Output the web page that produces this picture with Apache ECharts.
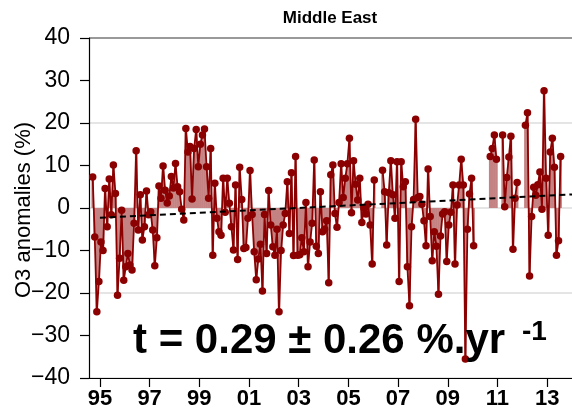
<!DOCTYPE html>
<html><head><meta charset="utf-8">
<script src="https://cdn.jsdelivr.net/npm/echarts@6/dist/echarts.min.js"></script>
<style>html,body{margin:0;padding:0;background:#fff}#c{width:572px;height:414px}</style>
</head><body><div id="c"></div>
<script>
// Monthly O3 anomalies (%), starting September 1994
const startYear = 1994;
const startMonth = 9;
const anomalies = [
  7.3, -6.8, -24.4, -17.3, -8.0, -10.0, 4.6, -4.4, 6.8, -1.6, 10.1, 3.4,
  -20.5, -11.8, -0.5, -17.0, -13.8, -10.7, -13.4, -14.6, -3.6, 13.5, -5.2, 3.1,
  -7.5, -4.4, 4.0, -1.6, -0.9, -5.2, -13.6, -7.0, 5.2, 2.3, 9.9, 4.2,
  1.2, 2.8, 7.4, 4.7, 10.5, 5.0, 3.8, -0.3, -2.8, 18.7, 13.2, 14.5,
  2.1, 14.0, 18.5, 9.7, 15.0, 17.2, 18.6, 9.7, 2.3, 14.0, -11.1, 5.8,
  -2.4, -5.6, -6.4, 7.0, -1.0, 7.0, 1.1, -4.4, -9.9, 5.4, -12.1, 9.6,
  2.0, -9.5, -9.3, -2.4, 8.8, -1.5, -10.3, -16.9, -12.0, -8.5, -19.5, -1.5,
  -10.7, 4.1, -4.0, -9.1, -11.1, -5.0, -24.4, -10.0, -4.0, -1.3, 6.2, -6.0,
  8.3, -11.2, 12.1, -11.1, -11.0, -7.0, -10.3, 1.3, -13.8, -8.0, -3.6, 11.3,
  -9.0, -10.7, 3.8, -5.6, -5.0, -3.0, -17.6, 7.8, 10.1, -1.3, -4.5, 1.3,
  10.4, 2.5, 7.0, 10.4, 16.4, -1.1, 11.1, 5.6, 1.9, 7.0, -3.4, 0.0,
  -1.4, 0.9, -4.0, -13.2, 6.6, null, null, null, 8.9, 3.8, -8.7, 3.6,
  11.1, 3.1, -2.4, 10.9, -17.3, 10.9, 5.0, 6.2, -13.8, -23.0, -4.4, 2.0,
  20.9, 2.5, 2.7, 0.9, -3.0, -8.9, 9.2, -2.0, -12.4, -5.6, -9.0, -20.3,
  -6.6, -1.4, -0.9, -12.6, -4.0, -1.0, 5.4, -13.2, 0.7, 5.4, 11.5, 5.4,
  -35.5, -5.0, 3.3, 7.0, -8.9, null, null, null, null, null, null, null,
  12.1, 14.0, 17.2, 11.5, null, null, 17.2, 0.3, 7.2, 12.0, 16.9, -9.7,
  2.3, 6.0, null, null, null, 19.5, 22.4, -16.0, -2.0, 4.9, 3.0, 5.5,
  8.5, -0.3, 27.6, 7.0, -6.4, 13.2, 16.4, 9.6, -11.1, -7.7, 12.1
];
const yearTicks = [1995, 1997, 1999, 2001, 2003, 2005, 2007, 2009, 2011, 2013];
const trendYears = [1995.0, 2014.0];
const trendValues = [-2.3, 3.2];
const titleText = 'Middle East';
const yName = 'O3 anomalies (%)';
const statText = 't = 0.29 ± 0.26 %.yr';
const statSup = '-1';

const pts = anomalies.map((v, i) => [startYear + (startMonth - 1 + i + 0.5) / 12, v]);
const trendPts = trendYears.map((y, i) => [y, trendValues[i]]);
const FONT = '"Liberation Sans", Arial, Helvetica, sans-serif';

const chart = echarts.init(document.getElementById('c'), null, {renderer: 'canvas'});
chart.setOption({
  animation: false,
  backgroundColor: '#fff',
  textStyle: {fontFamily: FONT},
  grid: {left: 89, top: 38, width: 488.5, height: 340, containLabel: false},
  xAxis: {
    type: 'value', min: 1994.56, max: 2014.0,
    axisLine: {show: true, onZero: false, lineStyle: {color: '#000', width: 1.2}},
    axisTick: {show: true, customValues: yearTicks, length: 9, lineStyle: {color: '#000', width: 1.2}},
    axisLabel: {customValues: yearTicks, formatter: v => String(Math.round(v)).slice(2),
      fontSize: 22, fontWeight: 'bold', color: '#000', margin: 10, fontFamily: FONT},
    splitLine: {show: false}
  },
  yAxis: [{
    type: 'value', min: -40, max: 40, interval: 10,
    axisLine: {show: true, onZero: false, lineStyle: {color: '#000', width: 1.2}},
    axisTick: {show: true, length: 9, lineStyle: {color: '#000', width: 1.2}},
    axisLabel: {fontSize: 23, color: '#000', margin: 19, fontFamily: FONT,
      formatter: v => v < 0 ? '\u2212' + Math.abs(v) : String(v)},
    splitLine: {show: false}
  }, {
    type: 'value', min: -40, max: 40, interval: 20, position: 'left',
    axisLine: {show: false}, axisTick: {show: false}, axisLabel: {show: false},
    splitLine: {show: true, lineStyle: {color: ['#dcdcdc', '#dcdcdc', '#dcdcdc', '#dcdcdc', '#777'], width: 1.5}}
  }],
  series: [{
    type: 'bar', data: pts, barWidth: 2.6, yAxisIndex: 0,
    itemStyle: {color: '#c58282'}, z: 1, silent: true
  }, {
    type: 'line', data: pts, yAxisIndex: 0, connectNulls: false,
    symbol: 'circle', symbolSize: 7.5, showSymbol: true, showAllSymbol: true,
    lineStyle: {color: '#8b0000', width: 1.8},
    itemStyle: {color: '#8b0000'}, z: 3, silent: true
  }, {
    type: 'line', data: trendPts, yAxisIndex: 0, symbol: 'none',
    lineStyle: {color: '#000', width: 2, type: [6, 4]}, z: 4, silent: true
  }],
  graphic: [{
    type: 'text', x: 330, y: 18,
    style: {text: titleText, font: 'bold 17px ' + FONT, fill: '#000', align: 'center', verticalAlign: 'middle'}
  }, {
    type: 'text', x: 24, y: 210, rotation: Math.PI / 2,
    style: {text: yName, font: '22px ' + FONT, fill: '#000', align: 'center', verticalAlign: 'middle'}
  }, {
    type: 'text', x: 133, y: 341, z: 10,
    style: {text: statText, font: 'bold 42px ' + FONT, fill: '#000', align: 'left', verticalAlign: 'middle'}
  }, {
    type: 'text', x: 522, y: 332, z: 10,
    style: {text: statSup, font: 'bold 28px ' + FONT, fill: '#000', align: 'left', verticalAlign: 'middle'}
  }]
});
</script>
</body></html>
